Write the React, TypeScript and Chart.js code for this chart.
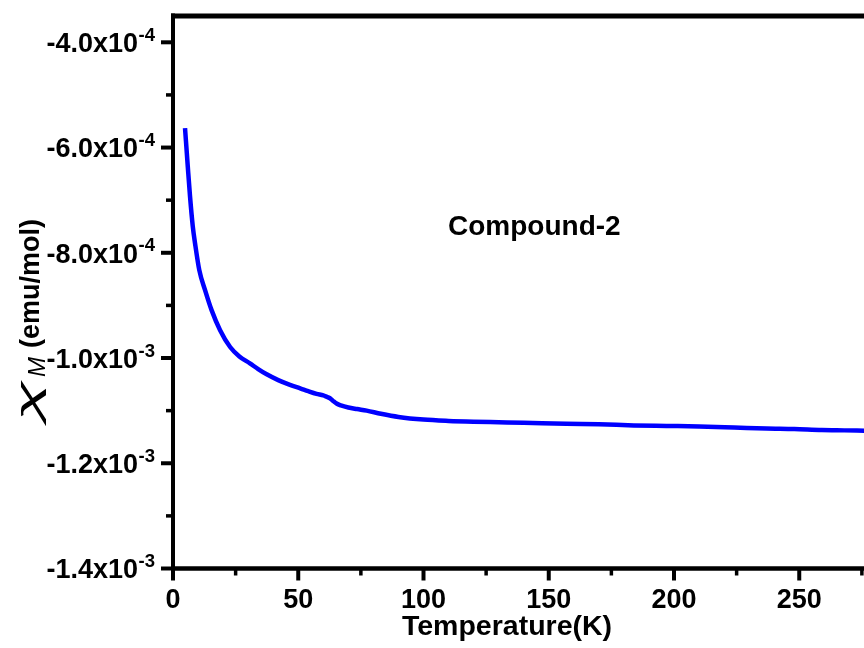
import React, { useEffect, useRef } from 'react';
import { Chart, registerables } from 'chart.js';

Chart.register(...registerables);

// ---- data ----
const temperatureK = [
  4.8, 5.9, 6.8, 7.9, 8.8, 10.5, 12.8, 15.4, 18.8, 22.8, 26.5, 30.7, 34, 37.4, 42, 46.7,
  51, 54, 57.3, 60, 61.3, 62.5, 63.8, 65.3, 67, 70, 73.5, 77.3, 83, 90, 100, 110, 120,
  130, 140, 157, 170, 184, 197, 210, 224, 237, 248, 259, 268, 276,
];
const chiM = [
  -5.63e-4, -6.36e-4, -6.93e-4, -7.5e-4, -7.82e-4, -8.33e-4, -8.71e-4, -9.09e-4, -9.47e-4,
  -9.79e-4, -9.97e-4, -1.01e-3, -1.021e-3, -1.031e-3, -1.042e-3, -1.051e-3, -1.058e-3,
  -1.063e-3, -1.068e-3, -1.071e-3, -1.0735e-3, -1.076e-3, -1.081e-3, -1.0865e-3, -1.09e-3,
  -1.094e-3, -1.097e-3, -1.1e-3, -1.106e-3, -1.112e-3, -1.117e-3, -1.1195e-3, -1.121e-3,
  -1.122e-3, -1.123e-3, -1.125e-3, -1.126e-3, -1.128e-3, -1.129e-3, -1.13e-3, -1.132e-3,
  -1.134e-3, -1.135e-3, -1.137e-3, -1.1375e-3, -1.138e-3,
];

const xMajorTicks = [0, 50, 100, 150, 200, 250, 300];
const xMinorTicks = [25, 75, 125, 175, 225, 275];
const yMajorTicks = [-4e-4, -6e-4, -8e-4, -1.0e-3, -1.2e-3, -1.4e-3];
const yTickMantissas = ['-4.0', '-6.0', '-8.0', '-1.0', '-1.2', '-1.4'];
const yTickExponents = ['-4', '-4', '-4', '-3', '-3', '-3'];
const yMinorTicks = [-5e-4, -7e-4, -9e-4, -1.1e-3, -1.3e-3];

const seriesLabel = 'Compound-2';
const xTitle = 'Temperature(K)';
const yTitleSymbol = 'χ';
const yTitleSub = 'M';
const yTitleUnit = '(emu/mol)';

const X_MIN = 0;
const X_MAX = 300;
const Y_MIN = -1.4e-3;
const Y_MAX = -3.5e-4;

const FONT = '"Liberation Sans", Arial, Helvetica, sans-serif';

const originAxesPlugin = {
  id: 'originAxes',
  afterDraw(chart: any) {
    const { ctx, chartArea: a } = chart;
    const xs = chart.scales.x;
    const ys = chart.scales.y;
    ctx.save();
    ctx.strokeStyle = '#000';
    ctx.fillStyle = '#000';
    ctx.lineCap = 'butt';
    const seg = (x1: number, y1: number, x2: number, y2: number, w: number) => {
      ctx.lineWidth = w;
      ctx.beginPath();
      ctx.moveTo(x1, y1);
      ctx.lineTo(x2, y2);
      ctx.stroke();
    };

    // frame
    seg(a.left - 2, a.top, a.right + 2, a.top, 5);
    seg(a.left - 2, a.bottom, a.right + 2, a.bottom, 4.5);
    seg(a.left, a.top - 2.5, a.left, a.bottom + 2.25, 4);
    seg(a.right, a.top - 2.5, a.right, a.bottom + 2.25, 4);

    // y ticks + labels
    yMinorTicks.forEach((v) => {
      const y = ys.getPixelForValue(v);
      seg(a.left, y, a.left - 7, y, 3.5);
    });
    yMajorTicks.forEach((v, i) => {
      const y = ys.getPixelForValue(v);
      seg(a.left, y, a.left - 12, y, 4);
      const rightEdge = a.left - 18;
      ctx.textAlign = 'right';
      ctx.textBaseline = 'alphabetic';
      ctx.font = `bold 18.5px ${FONT}`;
      const supW = ctx.measureText(yTickExponents[i]).width;
      ctx.fillText(yTickExponents[i], rightEdge, y - 1.5);
      ctx.font = `bold 27px ${FONT}`;
      ctx.fillText(yTickMantissas[i] + 'x10', rightEdge - supW - 0.5, y + 9.8);
    });

    // x ticks + labels
    xMinorTicks.forEach((v) => {
      const x = xs.getPixelForValue(v);
      seg(x, a.bottom, x, a.bottom + 7, 3.5);
    });
    xMajorTicks.forEach((v) => {
      const x = xs.getPixelForValue(v);
      seg(x, a.bottom, x, a.bottom + 12, 4);
      ctx.textAlign = 'center';
      ctx.textBaseline = 'alphabetic';
      ctx.font = `bold 27px ${FONT}`;
      ctx.fillText(String(v), x, a.bottom + 39.5);
    });

    // x title
    ctx.textAlign = 'center';
    ctx.font = `bold 28.5px ${FONT}`;
    ctx.fillText(xTitle, 507, 635);

    // annotation
    ctx.textAlign = 'left';
    ctx.font = `bold 28px ${FONT}`;
    ctx.fillText(seriesLabel, 448, 235);

    // y title (rotated)
    ctx.save();
    ctx.translate(39, 421);
    ctx.rotate(-Math.PI / 2);
    ctx.textAlign = 'left';
    ctx.font = `italic 33px ${FONT}`;
    const chiRaw = ctx.measureText(yTitleSymbol).width;
    const chiTarget = 40;
    ctx.save();
    ctx.scale(chiTarget / chiRaw, 1);
    ctx.fillText(yTitleSymbol, 0, 0);
    ctx.restore();
    ctx.font = `italic 24px ${FONT}`;
    ctx.fillText(yTitleSub, chiTarget + 4, 6);
    ctx.font = `bold 27px ${FONT}`;
    ctx.fillText(yTitleUnit, 73, 0);
    ctx.restore();

    ctx.restore();
  },
};

export default function App() {
  const canvasRef = useRef<HTMLCanvasElement | null>(null);

  useEffect(() => {
    const canvas = canvasRef.current;
    if (!canvas) return;
    const points = temperatureK.map((t, i) => ({ x: t, y: chiM[i] }));
    const chart = new Chart(canvas, {
      type: 'line',
      data: {
        datasets: [
          {
            label: seriesLabel,
            data: points,
            borderColor: '#0000FF',
            borderWidth: 4.5,
            pointRadius: 0,
            fill: false,
            cubicInterpolationMode: 'monotone',
          },
        ],
      },
      options: {
        responsive: false,
        animation: false,
        layout: { padding: { left: 173, top: 16, right: 25.5, bottom: 79.5 } },
        plugins: { legend: { display: false }, tooltip: { enabled: false }, title: { display: false } },
        scales: {
          x: { type: 'linear', min: X_MIN, max: X_MAX, display: false },
          y: { type: 'linear', min: Y_MIN, max: Y_MAX, display: false },
        },
      },
      plugins: [originAxesPlugin],
    });
    return () => chart.destroy();
  }, []);

  return (
    <div
      style={{
        position: 'fixed',
        left: 0,
        top: 0,
        width: 864,
        height: 648,
        overflow: 'hidden',
        background: '#fff',
      }}
    >
      <canvas ref={canvasRef} width={950} height={648} style={{ display: 'block' }} />
    </div>
  );
}
